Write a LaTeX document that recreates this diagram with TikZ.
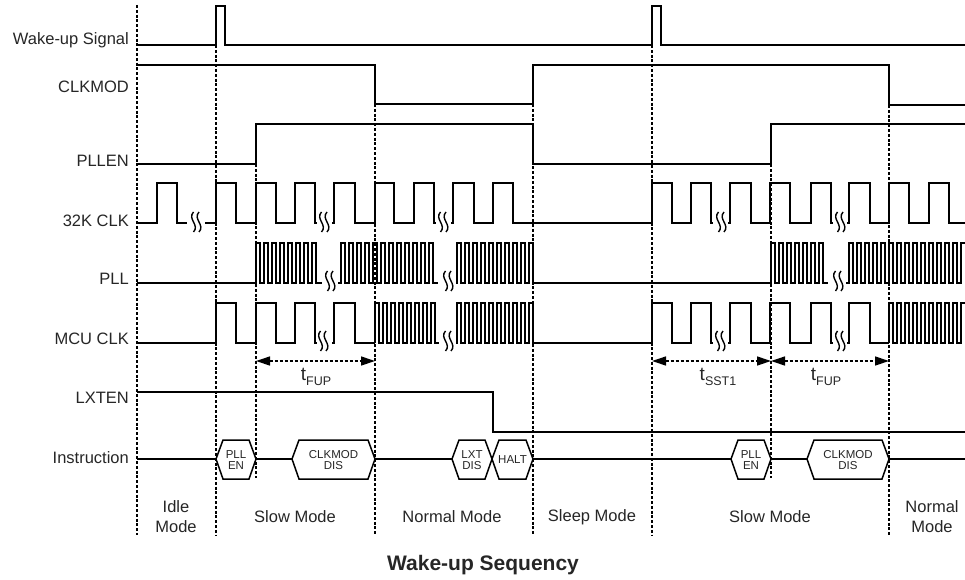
\documentclass[tikz,border=0pt]{standalone}
\usepackage{fontspec}
\setmainfont{Liberation Sans}
\usetikzlibrary{arrows.meta}
\newcommand\squiggle[2]{%
  \draw[squig] (#1-2.5,#2-10) .. controls (#1-9,#2-3) and (#1+4,#2+3) .. (#1-2.5,#2+10);
  \draw[squig] (#1+3,#2-10) .. controls (#1-3.5,#2-3) and (#1+9.5,#2+3) .. (#1+3,#2+10);}
\newcommand\hexagon[4]{%
  \draw[hexbox] (#2,459) -- (#2+7,440) -- (#3-7,440) -- (#3,459) -- (#3-7,479) -- (#2+7,479) -- cycle;
  \node[hexlbl] (#1) at ({(#2+#3)/2},460) {#4};}
\newcommand\tlabel[2]{{\fontsize{19}{19}\selectfont t}\raisebox{-4.5pt}{\fontsize{12.5}{13}\selectfont #2}}
\begin{document}
\begin{tikzpicture}[x=1pt,y=-1pt,
  sig/.style={line width=1.5pt, line join=miter},
  fast/.style={line width=1.1pt, line join=miter},
  guide/.style={line width=1.2pt, dash pattern=on 3pt off 1.8pt},
  squig/.style={line width=1.4pt},
  lbl/.style={anchor=base east, font=\fontsize{16.5}{20}\selectfont, text=black!85, inner sep=0pt},
  modelbl/.style={align=center, font=\fontsize{16.5}{20}\selectfont, text=black!85, inner sep=0pt},
  hexlbl/.style={align=center, font=\fontsize{11.5}{11}\selectfont, text=black!85, inner sep=0pt},
  hexbox/.style={line width=1.5pt, line join=miter},
  span/.style={line width=1.3pt, dash pattern=on 3pt off 2pt, {Triangle[length=14pt,width=9pt]}-{Triangle[length=14pt,width=9pt]}},
]
\useasboundingbox (0,0) rectangle (965,580);

% guides
\draw[guide] (137,5) -- (137,535);
\draw[guide] (216,45) -- (216,535);
\draw[guide] (256,164) -- (256,478);
\draw[guide] (375,104) -- (375,535);
\draw[guide] (533,104) -- (533,535);
\draw[guide] (652,45) -- (652,535);
\draw[guide] (771,164) -- (771,478);
\draw[guide] (889,105) -- (889,535);

% signal labels
\node[lbl] (lwake) at (129,45) {Wake-up Signal};
\node[lbl] (lclkmod) at (129,93) {CLKMOD};
\node[lbl] (lpllen) at (129,167) {PLLEN};
\node[lbl] (l32k) at (129,226) {32K CLK};
\node[lbl] (lpll) at (129,284) {PLL};
\node[lbl] (lmcu) at (129,344) {MCU CLK};
\node[lbl] (llxten) at (129,403) {LXTEN};
\node[lbl] (linstr) at (129,463) {Instruction};

% Wake-up
\draw[sig] (137,45) -- (216,45) -- (216,6) -- (225,6) -- (225,45) -- (652,45) -- (652,6) -- (661,6) -- (661,45) -- (965,45);
% CLKMOD
\draw[sig] (137,65) -- (375,65) -- (375,104) -- (533,104) -- (533,65) -- (889,65) -- (889,105) -- (965,105);
% PLLEN
\draw[sig] (137,164) -- (256,164) -- (256,124) -- (533,124) -- (533,164) -- (771,164) -- (771,124) -- (965,124);

% 32K CLK
\draw[sig] (137,223) -- (157,223) -- (157,183) -- (177,183) -- (177,223) -- (187,223);
\squiggle{196}{222}
\draw[sig] (205,223) -- (216,223) -- (216,183) -- (236,183) -- (236,223) -- (256,223) -- (256,183) -- (276,183) -- (276,223) -- (295,223) -- (295,183) -- (315,183) -- (315,223) -- (317,223);
\squiggle{324}{222}
\draw[sig] (332,223) -- (334,223) -- (334,183) -- (355,183) -- (355,223) -- (375,223) -- (375,183) -- (394,183) -- (394,223) -- (414,223) -- (414,183) -- (434,183) -- (434,223) -- (436,223);
\squiggle{443}{222}
\draw[sig] (451,223) -- (453,223) -- (453,183) -- (474,183) -- (474,223) -- (493,223) -- (493,183) -- (513,183) -- (513,223) -- (652,223) -- (652,183) -- (672,183) -- (672,223) -- (691,223) -- (691,183) -- (711,183) -- (711,223) -- (713,223);
\squiggle{721}{222}
\draw[sig] (728,223) -- (730,223) -- (730,183) -- (751,183) -- (751,223) -- (770,223) -- (770,183) -- (790,183) -- (790,223) -- (811,223) -- (811,183) -- (831,183) -- (831,223) -- (833,223);
\squiggle{840}{222}
\draw[sig] (847,223) -- (849,223) -- (849,183) -- (870,183) -- (870,223) -- (889,223) -- (889,183) -- (909,183) -- (909,223) -- (929,223) -- (929,183) -- (949,183) -- (949,223) -- (965,223);

% PLL
\draw[fast] (137,283) -- (256,283) \foreach \k in {1,...,8}{ -- ++(0,-40) -- ++(4,0) -- ++(0,40) -- ++(4,0)} -- (322,283);
\squiggle{330}{281}
\draw[fast] (338,283) -- (341,283) \foreach \k in {1,...,12}{ -- ++(0,-40) -- ++(4,0) -- ++(0,40) -- ++(4,0)} -- (438,283);
\squiggle{448}{281}
\draw[fast] (456,283) -- (457,283) \foreach \k in {1,...,10}{ -- ++(0,-40) -- ++(4,0) -- ++(0,40) -- ++(4,0)} -- (771,283) \foreach \k in {1,...,7}{ -- ++(0,-40) -- ++(4,0) -- ++(0,40) -- ++(4,0)} -- (828,283);
\squiggle{838}{281}
\draw[fast] (846,283) -- (849,283) \foreach \k in {1,...,14}{ -- ++(0,-40) -- ++(4,0) -- ++(0,40) -- ++(4,0)} -- ++(0,-40) -- (965,243);

% MCU CLK
\draw[sig] (137,343) -- (216,343) -- (216,303) -- (236,303) -- (236,343) -- (256,343) -- (256,303) -- (276,303) -- (276,343) -- (295,343) -- (295,303) -- (315,303) -- (315,343) -- (317,343);
\squiggle{323}{341}
\draw[sig] (332,343) -- (334,343) -- (334,303) -- (355,303) -- (355,343) -- (375,343);
\draw[fast] (375,343) \foreach \k in {1,...,8}{ -- ++(0,-40) -- ++(4,0) -- ++(0,40) -- ++(4,0)} -- (439,343);
\squiggle{448}{341}
\draw[fast] (456,343) -- (457,343) \foreach \k in {1,...,10}{ -- ++(0,-40) -- ++(4,0) -- ++(0,40) -- ++(4,0)};
\draw[sig] (537,343) -- (652,343) -- (652,303) -- (672,303) -- (672,343) -- (691,343) -- (691,303) -- (711,303) -- (711,343) -- (713,343);
\squiggle{720}{341}
\draw[sig] (728,343) -- (730,343) -- (730,303) -- (751,303) -- (751,343) -- (770,343) -- (770,303) -- (790,303) -- (790,343) -- (811,343) -- (811,303) -- (831,303) -- (831,343) -- (833,343);
\squiggle{840}{341}
\draw[sig] (847,343) -- (849,343) -- (849,303) -- (870,303) -- (870,343) -- (889,343);
\draw[fast] (889,343) \foreach \k in {1,...,9}{ -- ++(0,-40) -- ++(4,0) -- ++(0,40) -- ++(4,0)} -- ++(0,-40) -- (965,303);

% timing spans
\coordinate (a1) at (256,361); \coordinate (a2) at (375,361);
\coordinate (b1) at (652,361); \coordinate (b2) at (771,361); \coordinate (b3) at (889,361);
\draw[span] (a1) -- (a2);
\draw[span] (b1) -- (b2);
\draw[span] (b2) -- (b3);
\node[inner sep=0pt, text=black!85] (tfup1) at (316,377) {\tlabel{t}{FUP}};
\node[inner sep=0pt, text=black!85] (tsst) at (718,377) {\tlabel{t}{SST1}};
\node[inner sep=0pt, text=black!85] (tfup2) at (826,377) {\tlabel{t}{FUP}};

% LXTEN
\draw[sig] (137,392) -- (493,392) -- (493,432) -- (965,432);

% Instruction
\draw[sig] (137,459) -- (216,459);
\draw[sig] (256,459) -- (292,459);
\draw[sig] (375,459) -- (452,459);
\draw[sig] (533,459) -- (731,459);
\draw[sig] (771,459) -- (807,459);
\draw[sig] (889,459) -- (965,459);
\hexagon{h1}{216}{256}{PLL\\EN}
\hexagon{h2}{292}{375}{CLKMOD\\DIS}
\hexagon{h3}{452}{492}{LXT\\DIS}
\hexagon{h4}{492}{533}{HALT}
\hexagon{h5}{731}{771}{PLL\\EN}
\hexagon{h6}{807}{889}{CLKMOD\\DIS}

% modes
\node[modelbl] (m1) at (176,517) {Idle\\Mode};
\node[modelbl] (m2) at (295,517) {Slow Mode};
\node[modelbl] (m3) at (452,517) {Normal Mode};
\node[modelbl] (m4) at (592,517) {Sleep Mode};
\node[modelbl] (m5) at (770,517) {Slow Mode};
\node[modelbl] (m6) at (932,517) {Normal\\Mode};

\node[font=\bfseries\fontsize{21}{24}\selectfont, text=black!85, anchor=base] (title) at (483,570) {Wake-up Sequency};
\end{tikzpicture}
\end{document}
